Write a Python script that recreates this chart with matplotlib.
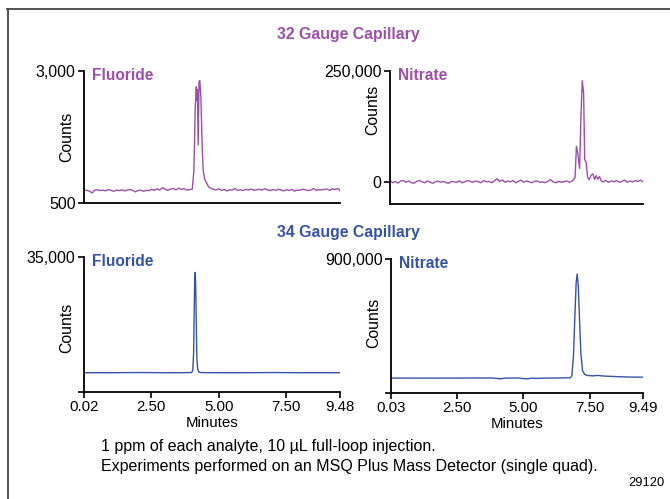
import matplotlib
matplotlib.use("Agg")
import matplotlib.pyplot as plt
from matplotlib.lines import Line2D

plt.rcParams['font.family'] = ['Liberation Sans', 'DejaVu Sans']

PURPLE = '#9b4fa8'
BLUE = '#3553a8'

# 32 gauge, fluoride (minutes, counts)
f32_t = [0.02, 0.12, 0.22, 0.32, 0.42, 0.52, 0.62, 0.72, 0.82, 0.92, 1.02, 1.12, 1.22,
         1.32, 1.42, 1.52, 1.62, 1.72, 1.82, 1.92, 2.02, 2.12, 2.22, 2.32, 2.42, 2.52,
         2.62, 2.72, 2.82, 2.92, 3.02, 3.12, 3.22, 3.32, 3.42, 3.52, 3.62, 3.72, 3.82,
         3.92, 4.02, 4.08, 4.13, 4.17, 4.19, 4.21, 4.24, 4.27, 4.30, 4.34, 4.39, 4.43,
         4.48, 4.55, 4.62, 4.70, 4.80, 4.90, 5.00, 5.10, 5.20, 5.30, 5.40, 5.50, 5.60,
         5.70, 5.80, 5.90, 6.00, 6.10, 6.20, 6.30, 6.40, 6.50, 6.60, 6.70, 6.80, 6.90,
         7.00, 7.10, 7.20, 7.30, 7.40, 7.50, 7.60, 7.70, 7.80, 7.90, 8.00, 8.10, 8.20,
         8.30, 8.40, 8.50, 8.60, 8.70, 8.80, 8.90, 9.00, 9.10, 9.20, 9.30, 9.40, 9.48]
f32_c = [745, 740, 725, 690, 745, 750, 735, 745, 730, 755, 740, 720, 745, 735, 750,
         730, 745, 755, 740, 710, 735, 745, 720, 740, 735, 760, 740, 770, 745, 790,
         760, 740, 765, 775, 750, 780, 760, 770, 745, 755, 760, 1100, 2300, 2700,
         2450, 2650, 1600, 2800, 2820, 2500, 1500, 1100, 950, 880, 810, 780, 760,
         745, 770, 740, 755, 730, 750, 745, 775, 740, 750, 735, 760, 745, 765, 740,
         750, 760, 745, 770, 750, 735, 755, 740, 760, 745, 730, 750, 740, 755, 725,
         745, 740, 760, 750, 735, 745, 775, 740, 755, 745, 760, 765, 740, 770, 755,
         775, 735]

# 32 gauge, nitrate
n32_t = [0.03, 0.13, 0.23, 0.33, 0.43, 0.53, 0.63, 0.73, 0.83, 0.93, 1.03, 1.13, 1.23,
         1.33, 1.43, 1.53, 1.63, 1.73, 1.83, 1.93, 2.03, 2.13, 2.23, 2.33, 2.43, 2.53,
         2.63, 2.73, 2.83, 2.93, 3.03, 3.13, 3.23, 3.33, 3.43, 3.53, 3.63, 3.73, 3.83,
         3.93, 4.03, 4.13, 4.23, 4.33, 4.43, 4.53, 4.63, 4.73, 4.83, 4.93, 5.03, 5.13,
         5.23, 5.33, 5.43, 5.53, 5.63, 5.73, 5.83, 5.93, 6.03, 6.13, 6.23, 6.33, 6.43,
         6.53, 6.63, 6.73, 6.85, 6.95, 7.00, 7.05, 7.12, 7.17, 7.22, 7.27, 7.31, 7.36,
         7.42, 7.48, 7.55, 7.62, 7.68, 7.74, 7.80, 7.86, 7.93, 8.00, 8.10, 8.20, 8.30,
         8.40, 8.50, 8.60, 8.70, 8.80, 8.90, 9.00, 9.10, 9.20, 9.30, 9.40, 9.49]
n32_c = [3000, -2000, 1000, -3000, 2000, 3000, -1000, 2000, -2000, -3000, 1000, 3000,
         0, -2000, 2000, -1000, -3000, 0, 2000, -1000, 1000, -2000, -3000, 1000, 0,
         -1000, 2000, -2000, 0, 3000, 1000, -1000, 2000, 0, -2000, 3000, 0, 1000,
         -2000, 2000, 7000, 1000, 4000, -1000, 2000, 0, 3000, -2000, 1000, 4000, -1000,
         2000, 0, -2000, 1000, 2000, -1000, 0, -2000, 1000, 5000, 0, -2000, 1000, -1000,
         0, 2000, -1000, 2000, 10000, 80000, 65000, 30000, 150000, 228000, 200000,
         50000, 45000, 10000, 5000, 15000, 18000, 5000, 14000, 6000, 12000, 2000, 0,
         3000, -1000, 2000, 0, 3000, -1000, 1000, 4000, -1000, 2000, 0, 3000, 1000,
         4000, 0]

# 34 gauge, fluoride
f34_t = [0.02, 1.00, 2.00, 3.00, 3.60, 4.00, 4.04, 4.07, 4.09, 4.11, 4.13, 4.15, 4.17,
         4.19, 4.22, 4.26, 4.32, 4.60, 5.00, 6.00, 7.00, 8.00, 9.00, 9.48]
f34_c = [5000, 5000, 5050, 5000, 5000, 5050, 5600, 10000, 20000, 29000, 31000, 27000,
         17000, 9000, 6000, 5200, 5050, 5000, 5000, 5000, 5050, 5000, 5000, 5000]

# 34 gauge, nitrate
n34_t = [0.03, 1.00, 2.00, 3.00, 3.80, 4.05, 4.15, 4.30, 4.80, 5.05, 5.15, 5.30, 5.50,
         5.60, 5.80, 6.30, 6.75, 6.82, 6.88, 6.93, 6.98, 7.02, 7.06, 7.11, 7.16, 7.22,
         7.30, 7.40, 7.60, 7.80, 8.00, 8.50, 9.00, 9.49]
n34_c = [100000, 100000, 100000, 100500, 101000, 97000, 95000, 100000, 101000, 96000,
         95000, 100000, 98000, 99000, 100000, 101000, 102000, 115000, 250000, 500000,
         740000, 800000, 720000, 480000, 260000, 150000, 125000, 118000, 115000,
         118000, 114000, 110000, 107000, 106000]

W, H = 670, 499
fig = plt.figure(figsize=(W / 100, H / 100), dpi=100)


def box(l, t, r, b):
    return [l / W, 1 - b / H, (r - l) / W, (b - t) / H]


panels = [
    (box(84, 71, 340, 203), f32_t, f32_c, PURPLE, 'Fluoride', (500, 3000),
     [500, 3000], ['500', '3,000'], (0.02, 9.48), None, 137),
    (box(390, 71, 643, 204), n32_t, n32_c, PURPLE, 'Nitrate', (-50000, 250000),
     [0, 250000], ['0', '250,000'], (0.03, 9.49), None, 110),
    (box(84, 257, 340, 392), f34_t, f34_c, BLUE, 'Fluoride', (0, 35000),
     [0, 35000], ['', '35,000'], (0.02, 9.48), ['0.02', '2.50', '5.00', '7.50', '9.48'], 328),
    (box(391, 259, 643, 393), n34_t, n34_c, BLUE, 'Nitrate', (0, 900000),
     [0, 900000], ['', '900,000'], (0.03, 9.49), ['0.03', '2.50', '5.00', '7.50', '9.49'], 323),
]

for pos, t, c, col, name, ylim, yt, ytl, xlim, xtl, ylab_y in panels:
    ax = fig.add_axes(pos)
    ax.plot(t, c, color=col, lw=1.0)
    ax.set_ylim(*ylim)
    ax.set_xlim(*xlim)
    ax.set_yticks(yt)
    ax.set_yticklabels(ytl, fontsize=11.5)
    for s in ['top', 'right']:
        ax.spines[s].set_visible(False)
    for s in ['left', 'bottom']:
        ax.spines[s].set_linewidth(1.3)
    ax.tick_params(axis='y', length=4, width=1.2, pad=2)
    if xtl is None:
        ax.set_xticks([])
    else:
        ax.set_xticks([xlim[0], 2.5, 5.0, 7.5, xlim[1]])
        ax.set_xticklabels(xtl, fontsize=10.8)
        ax.tick_params(axis='x', length=4, width=1.2, pad=2)
        ax.set_xlabel('Minutes', fontsize=10.8, labelpad=1)
    ax.text(0.03, 1.02, name, transform=ax.transAxes, color=col, fontsize=11.2,
            fontweight='bold', ha='left', va='top')
    x_lab = pos[0] * W - 17
    fig.text(x_lab / W, 1 - ylab_y / H, 'Counts', rotation=90, fontsize=11.4,
             ha='center', va='center')

fig.text(348 / W, 1 - 35 / H, '32 Gauge Capillary', color=PURPLE, fontsize=11.4,
         fontweight='bold', ha='center', va='center')
fig.text(348 / W, 1 - 232 / H, '34 Gauge Capillary', color=BLUE, fontsize=11.4,
         fontweight='bold', ha='center', va='center')

fig.text(101 / W, 1 - 447 / H, '1 ppm of each analyte, 10 µL full-loop injection.',
         fontsize=11.5, ha='left', va='center')
fig.text(101 / W, 1 - 466 / H,
         'Experiments performed on an MSQ Plus Mass Detector (single quad).',
         fontsize=11.5, ha='left', va='center')
fig.text(665 / W, 1 - 483 / H, '29120', fontsize=9.3, ha='right', va='center')

# frame lines (top and left)
fig.add_artist(Line2D([7 / W, 1], [1 - 9 / H, 1 - 9 / H], color='#444444', lw=1.3,
                      transform=fig.transFigure))
fig.add_artist(Line2D([8 / W, 8 / W], [1 - 9 / H, 0], color='#444444', lw=1.3,
                      transform=fig.transFigure))

fig.savefig('out.png', dpi=100)
